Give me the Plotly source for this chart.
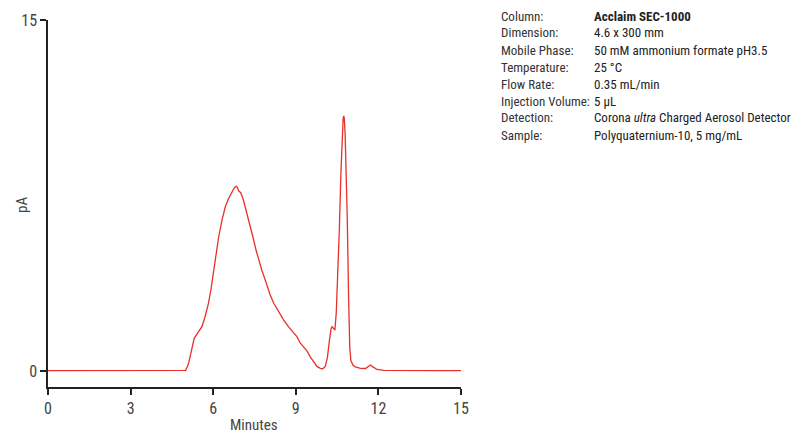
import plotly.graph_objects as go

minutes = [0, 1, 2, 3, 4, 4.8, 5.0, 5.1, 5.2, 5.31, 5.45, 5.59, 5.7, 5.83, 5.92, 6.02, 6.1, 6.2,
           6.32, 6.44, 6.55, 6.65, 6.75, 6.83, 6.88, 6.92, 7.0, 7.1, 7.23, 7.35, 7.47, 7.56, 7.65,
           7.77, 7.89, 8.07, 8.2, 8.38, 8.55, 8.74, 8.9, 9.04, 9.16, 9.3, 9.41, 9.53, 9.65, 9.77,
           9.89, 9.98, 10.07, 10.15, 10.22, 10.28, 10.32, 10.37, 10.42, 10.47, 10.52, 10.58, 10.64,
           10.69, 10.72, 10.74, 10.76, 10.79, 10.83, 10.87, 10.92, 10.96, 11.0, 11.08, 11.16, 11.35,
           11.53, 11.62, 11.71, 11.8, 11.95, 12.2, 12.7, 13.5, 14.2, 15]
signal_pA = [0.02, 0.02, 0.01, 0.0, 0.0, 0.0, 0.03, 0.3, 0.9, 1.4, 1.65, 1.9, 2.3, 2.9, 3.5, 4.3,
             5.0, 5.74, 6.45, 7.02, 7.35, 7.6, 7.8, 7.9, 7.85, 7.7, 7.62, 7.3, 6.74, 6.2, 5.6, 5.15,
             4.74, 4.3, 3.89, 3.25, 2.9, 2.53, 2.2, 1.89, 1.65, 1.47, 1.2, 1.0, 0.85, 0.6, 0.38, 0.2,
             0.12, 0.1, 0.2, 0.6, 1.3, 1.8, 1.9, 1.8, 1.75, 2.5, 4.0, 6.0, 8.5, 10.3, 10.8, 10.9, 10.8,
             10.2, 8.5, 6.5, 3.0, 1.0, 0.45, 0.25, 0.18, 0.12, 0.11, 0.17, 0.26, 0.18, 0.07, 0.03,
             0.02, 0.02, 0.02, 0.02]

x_ticks = [0, 3, 6, 9, 12, 15]
y_ticks = [0, 15]

info_labels = ["Column:", "Dimension:", "Mobile Phase:", "Temperature:", "Flow Rate:",
               "Injection Volume:", "Detection:", "Sample:"]
info_values = ["<b>Acclaim SEC-1000</b>", "4.6 x 300 mm", "50 mM ammonium formate pH3.5",
               "25 °C", "0.35 mL/min", "5 µL", "Corona <i>ultra</i> Charged Aerosol Detector",
               "Polyquaternium-10, 5 mg/mL"]

FONT = "Liberation Sans Narrow, Roboto Condensed, Liberation Sans, Arial, sans-serif"

fig = go.Figure()
fig.add_trace(go.Scatter(x=minutes, y=signal_pA, mode="lines",
                         line=dict(color="#e8302a", width=1.3), showlegend=False))

fig.update_layout(
    width=804, height=434,
    margin=dict(l=48, r=343, t=20, b=47),
    paper_bgcolor="white", plot_bgcolor="white",
    font=dict(family=FONT, color="#333333"),
    xaxis=dict(range=[0, 15], tickvals=x_ticks, ticks="outside", ticklen=6, tickwidth=1.5,
               tickcolor="#222", showline=True, linecolor="#222", linewidth=1.5, automargin=False,
               showgrid=False, zeroline=False, tickfont=dict(size=16, family=FONT, color="#444")),
    yaxis=dict(range=[-0.68, 15], tickvals=y_ticks, ticks="outside", ticklen=6, tickwidth=1.5,
               tickcolor="#222", showline=True, linecolor="#222", linewidth=1.5, automargin=False,
               showgrid=False, zeroline=False, tickfont=dict(size=16, family=FONT, color="#444")),
)

fig.add_annotation(xref="paper", yref="paper", x=(22 - 48) / 413, y=1 - (205 - 20) / 367,
                   text="pA", textangle=-90, showarrow=False, xanchor="center", yanchor="middle",
                   font=dict(size=15, family=FONT, color="#444"))
fig.add_annotation(xref="paper", yref="paper", x=(254 - 48) / 413, y=1 - (425 - 20) / 367,
                   text="Minutes", showarrow=False, xanchor="center", yanchor="middle",
                   font=dict(size=15, family=FONT, color="#444"))

for i, (lab, val) in enumerate(zip(info_labels, info_values)):
    yp = 16 + 17 * i
    fig.add_annotation(xref="paper", yref="paper", x=(501 - 48) / 413, y=1 - (yp - 20) / 367,
                       text=lab, showarrow=False, xanchor="left", yanchor="middle", xshift=-2,
                       font=dict(size=13, family=FONT, color="#333"))
    fig.add_annotation(xref="paper", yref="paper", x=(594 - 48) / 413, y=1 - (yp - 20) / 367,
                       text=val, showarrow=False, xanchor="left", yanchor="middle", xshift=-2,
                       font=dict(size=13, family=FONT, color="#222"))

fig.write_html("out.html", config={"displayModeBar": False},
               post_script="document.body.style.margin='0';")
